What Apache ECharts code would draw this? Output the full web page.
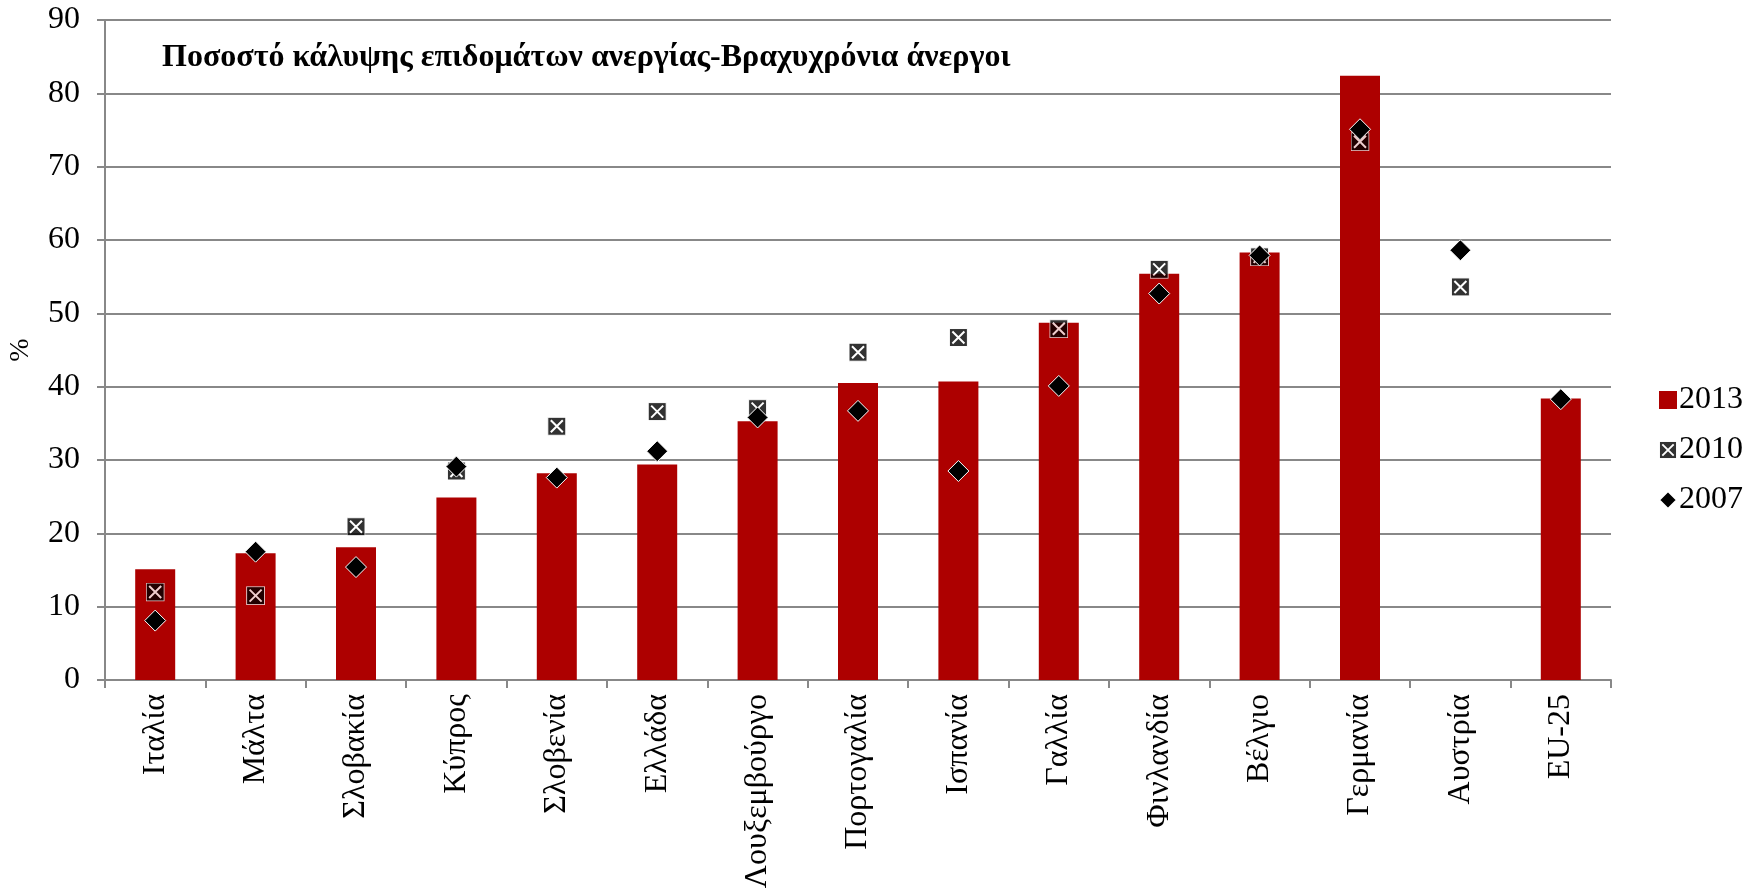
<!DOCTYPE html>
<html><head><meta charset="utf-8">
<script src="https://cdn.jsdelivr.net/npm/echarts@6/dist/echarts.min.js"></script>
<style>html,body{margin:0;padding:0;background:#fff}#c{width:1760px;height:894px}</style>
</head><body><div id="c"></div>
<script>
const categories = ['Ιταλία','Μάλτα','Σλοβακία','Κύπρος','Σλοβενία','Ελλάδα','Λουξεμβούργο','Πορτογαλία','Ισπανία','Γαλλία','Φινλανδία','Βέλγιο','Γερμανία','Αυστρία','EU-25'];
const v2013 = [15.1,17.3,18.1,24.9,28.2,29.4,35.3,40.5,40.7,48.7,55.4,58.3,82.4,null,38.4];
const v2010 = [12.0,11.5,20.9,28.5,34.6,36.6,37.0,44.7,46.7,47.9,56.0,57.7,73.4,53.6,null];
const v2007 = [8.1,17.5,15.4,29.1,27.6,31.2,35.8,36.7,28.5,40.1,52.7,57.9,75.1,58.6,38.3];
const yTicks = [0,10,20,30,40,50,60,70,80,90];
const titleText = 'Ποσοστό κάλυψης επιδομάτων ανεργίας-Βραχυχρόνια άνεργοι';

const FONT = '"Liberation Serif","Times New Roman",serif';
const svgX = "<svg xmlns='http://www.w3.org/2000/svg' width='19' height='19'><rect x='0.5' y='0.5' width='18' height='18' fill='black' stroke='white' stroke-width='1'/><path d='M3.5 3.5L15.5 15.5M15.5 3.5L3.5 15.5' stroke='white' stroke-width='2'/></svg>";
const xSymbol = 'image://data:image/svg+xml;charset=utf-8,' + encodeURIComponent(svgX);

const chart = echarts.init(document.getElementById('c'));
chart.setOption({
  animation:false,
  backgroundColor:'#fff',
  title:{text:titleText,left:157,top:37,textStyle:{fontFamily:FONT,fontWeight:'bold',fontSize:32,color:'#000'}},
  grid:{left:105,right:149,top:20,bottom:214,containLabel:false,outerBoundsMode:'none'},
  legend:{orient:'vertical',left:1653,top:379,itemGap:18,itemWidth:18,itemHeight:18,
    textStyle:{fontFamily:FONT,fontSize:32,color:'#000',padding:[0,0,0,-3]},
    data:[{name:'2013',icon:'rect',itemStyle:{color:'#AD0000'}},{name:'2010',icon:xSymbol},{name:'2007',icon:'diamond'}]},
  xAxis:{type:'category',data:categories,boundaryGap:true,
    axisLine:{lineStyle:{color:'#888',width:2}},
    axisTick:{show:true,interval:0,length:8,lineStyle:{color:'#888',width:2}},
    axisLabel:{rotate:90,interval:0,margin:14,fontFamily:FONT,fontSize:32,color:'#000'}},
  yAxis:{type:'value',min:0,max:90,interval:10,name:'%',nameLocation:'middle',nameGap:70,nameRotate:90,nameMoveOverlap:false,
    nameTextStyle:{fontFamily:FONT,fontSize:28,color:'#000'},
    axisLine:{show:true,lineStyle:{color:'#888',width:2}},
    axisTick:{show:true,length:8,lineStyle:{color:'#888',width:2}},
    splitLine:{lineStyle:{color:'#888',width:2}},
    axisLabel:{margin:25,fontFamily:FONT,fontSize:32,color:'#000',formatter:v=>yTicks.includes(v)?String(v):''}},
  series:[
    {name:'2013',type:'bar',data:v2013,barWidth:40,itemStyle:{color:'#AD0000'}},
    {name:'2010',type:'scatter',data:v2010,symbol:xSymbol,symbolSize:19,z:3},
    {name:'2007',type:'scatter',data:v2007,symbol:'diamond',symbolSize:21,itemStyle:{color:'#000',borderColor:'#fff',borderWidth:1,opacity:1},z:4}
  ]
});
</script></body></html>
